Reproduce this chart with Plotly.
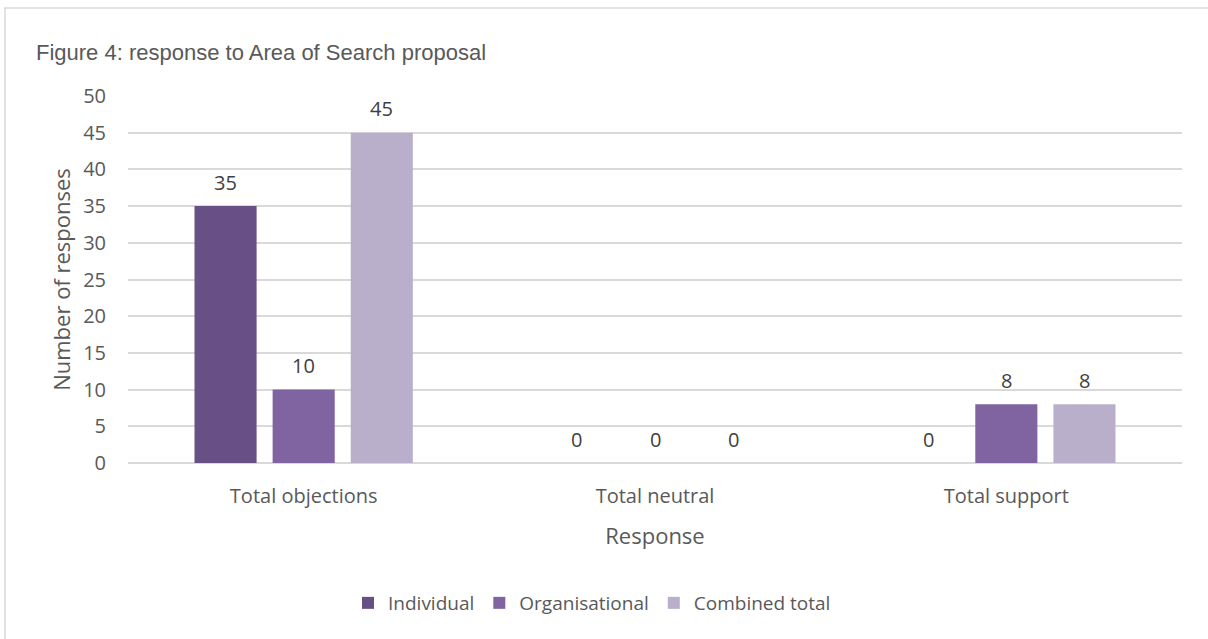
import plotly.graph_objects as go

# Responses by category and respondent type
categories = ["Total objections", "Total neutral", "Total support"]
individual = [35, 0, 0]
organisational = [10, 0, 8]
combined_total = [45, 0, 8]

series = [
    ("Individual", individual, "#684F86"),
    ("Organisational", organisational, "#8064A2"),
    ("Combined total", combined_total, "#B9AFCB"),
]

W, H = 1208, 639
ML, MR, MT, MB = 128, 26, 96, 176
BARGAP = 0.333
BARGROUPGAP = 0.205

text_color = "#595959"
body_font = "Open Sans"

fig = go.Figure()
for name, values, color in series:
    fig.add_trace(go.Bar(
        name=name,
        x=categories,
        y=values,
        marker=dict(color=color, line=dict(width=0)),
    ))

plot_w = W - ML - MR
plot_h = H - MT - MB


def px_x(px):
    return (px - ML) / plot_w


def px_y(py):
    return (H - MB - py) / plot_h


# value labels above each bar, shifted sideways to their slot in the group
slot_px = plot_w / len(categories) * (1 - BARGAP) / len(series)
annotations = []
for i, (name, values, color) in enumerate(series):
    offset = (i - (len(series) - 1) / 2) * slot_px
    for cat, v in zip(categories, values):
        annotations.append(dict(
            x=cat, y=v, xref="x", yref="y",
            text=str(v), showarrow=False,
            xshift=offset, yshift=24,
            xanchor="center", yanchor="middle",
            font=dict(family=body_font, size=20, color="#404040"),
        ))

fig.update_layout(
    width=W,
    height=H,
    margin=dict(l=ML, r=MR, t=MT, b=MB, pad=0),
    paper_bgcolor="white",
    plot_bgcolor="white",
    barmode="group",
    bargap=BARGAP,
    bargroupgap=BARGROUPGAP,
    annotations=annotations,
    title=dict(
        text="Figure 4: response to Area of Search proposal",
        font=dict(family="Liberation Sans", size=22, color=text_color),
        xref="container", yref="container",
        x=36 / W, xanchor="left",
        y=1 - 52 / H, yanchor="middle",
    ),
    legend=dict(
        orientation="h",
        x=px_x(592), xanchor="center",
        y=px_y(603), yanchor="middle",
        font=dict(family=body_font, size=19, color=text_color),
        itemsizing="constant",
        itemwidth=30,
        traceorder="normal",
    ),
    xaxis=dict(
        showgrid=False,
        showline=False,
        tickfont=dict(family=body_font, size=20, color=text_color),
        ticklabelstandoff=19,
        title=dict(text="Response", font=dict(family=body_font, size=22, color=text_color), standoff=20),
    ),
    yaxis=dict(
        range=[0, 50],
        dtick=5,
        showgrid=True,
        gridcolor="#D9D9D9",
        gridwidth=1.5,
        zeroline=True,
        zerolinecolor="#D9D9D9",
        zerolinewidth=1.5,
        showline=False,
        tickfont=dict(family=body_font, size=20, color=text_color),
        ticklabelstandoff=21,
        title=dict(text="Number of responses", font=dict(family=body_font, size=22, color=text_color), standoff=6),
    ),
    shapes=[dict(
        type="rect", xref="paper", yref="paper",
        x0=px_x(5), x1=px_x(W + 5), y0=px_y(H + 5), y1=px_y(8),
        line=dict(color="#D9D9D9", width=1.5),
        fillcolor="rgba(0,0,0,0)",
        layer="below",
    )],
)

fig.write_html("out.html")
